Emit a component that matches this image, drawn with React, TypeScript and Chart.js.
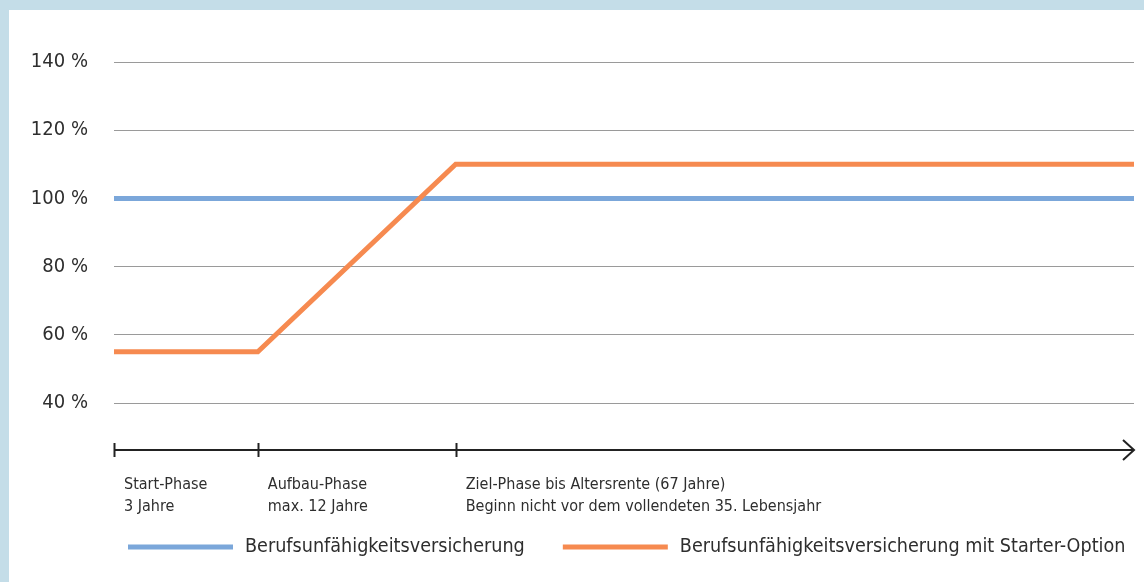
import { useEffect, useRef } from "react";
import { Chart, registerables } from "chart.js";

Chart.register(...registerables);

// timeline positions (percent of the timeline length)
const xPositions = [0, 14.1, 33.5, 100];
const standardValues = [100, 100, 100, 100];
const starterValues = [55, 55, 110, 110];
const yTickValues = [40, 60, 80, 100, 120, 140];
const phaseStarts = [0, 14.1, 33.5];
const timelineEnd = 100;
const phaseLabels = [
  ["Start-Phase", "3 Jahre"],
  ["Aufbau-Phase", "max. 12 Jahre"],
  ["Ziel-Phase bis Altersrente (67 Jahre)", "Beginn nicht vor dem vollendeten 35. Lebensjahr"],
];
const seriesNames = [
  "Berufsunfähigkeitsversicherung",
  "Berufsunfähigkeitsversicherung mit Starter-Option",
];
const seriesColors = ["#7BA7DA", "#F68A50"];

const FONT = "'Liberation Sans Narrow', 'DejaVu Sans Condensed', 'Liberation Sans', sans-serif";
const TEXT = "#2e2e2e";

const timelinePlugin = {
  id: "timelineAndLegend",
  afterDraw(chart: any) {
    const ctx = chart.ctx;
    const area = chart.chartArea;
    const xs = chart.scales.x;
    const y = area.bottom + 47;
    const x0 = xs.getPixelForValue(0);
    const x1 = xs.getPixelForValue(timelineEnd);
    ctx.save();
    ctx.strokeStyle = "#222";
    ctx.lineWidth = 2;
    ctx.beginPath();
    ctx.moveTo(x0, y);
    ctx.lineTo(x1, y);
    ctx.stroke();
    phaseStarts.forEach((v) => {
      const px = Math.round(xs.getPixelForValue(v)) + 0.5;
      ctx.beginPath();
      ctx.moveTo(px, y - 7);
      ctx.lineTo(px, y + 7);
      ctx.stroke();
    });
    ctx.beginPath();
    ctx.moveTo(x1 - 11, y - 10);
    ctx.lineTo(x1, y);
    ctx.lineTo(x1 - 11, y + 10);
    ctx.stroke();

    ctx.fillStyle = TEXT;
    ctx.font = `16px ${FONT}`;
    ctx.textAlign = "left";
    ctx.textBaseline = "alphabetic";
    phaseStarts.forEach((v, i) => {
      const px = xs.getPixelForValue(v) + 10;
      ctx.fillText(phaseLabels[i][0], px, area.bottom + 86);
      ctx.fillText(phaseLabels[i][1], px, area.bottom + 108);
    });

    // legend
    const ly = area.bottom + 144;
    let lx = area.left + 14;
    ctx.font = `19.6px ${FONT}`;
    ctx.textBaseline = "middle";
    seriesNames.forEach((name, i) => {
      ctx.strokeStyle = seriesColors[i];
      ctx.lineWidth = 5;
      ctx.beginPath();
      ctx.moveTo(lx, ly);
      ctx.lineTo(lx + 105, ly);
      ctx.stroke();
      ctx.fillStyle = TEXT;
      ctx.fillText(name, lx + 117, ly);
      lx += 117 + ctx.measureText(name).width + 38;
    });
    ctx.restore();
  },
};

export default function App() {
  const ref = useRef<HTMLCanvasElement | null>(null);
  useEffect(() => {
    if (!ref.current) return;
    const chart = new Chart(ref.current, {
      type: "line",
      data: {
        datasets: [
          {
            label: seriesNames[0],
            data: xPositions.map((x, i) => ({ x, y: standardValues[i] })),
            borderColor: seriesColors[0],
            borderWidth: 5,
            pointRadius: 0,
            tension: 0,
            order: 1,
          },
          {
            label: seriesNames[1],
            data: xPositions.map((x, i) => ({ x, y: starterValues[i] })),
            borderColor: seriesColors[1],
            borderWidth: 5,
            pointRadius: 0,
            tension: 0,
            order: 0,
          },
        ],
      },
      options: {
        responsive: false,
        animation: false,
        layout: { padding: { top: 52, bottom: 179, right: 10, left: 0 } },
        plugins: { legend: { display: false }, tooltip: { enabled: false } },
        scales: {
          x: { type: "linear", min: 0, max: timelineEnd, display: false },
          y: {
            min: yTickValues[0],
            max: yTickValues[yTickValues.length - 1],
            afterFit: (s: any) => {
              s.width = 105;
            },
            afterBuildTicks: (s: any) => {
              s.ticks = yTickValues.map((v) => ({ value: v }));
            },
            ticks: {
              padding: 26,
              color: TEXT,
              font: { family: FONT, size: 20 },
              callback: (v: any) => `${v} %`,
            },
            grid: { color: "#9a9a9a", lineWidth: 1, drawTicks: false },
            border: { display: false },
          },
        },
      },
      plugins: [timelinePlugin],
    });
    return () => chart.destroy();
  }, []);
  return (
    <div
      style={{
        position: "absolute",
        left: 0,
        top: 0,
        width: 1144,
        height: 582,
        background: "#C4DDE8",
      }}
    >
      <div
        style={{
          position: "absolute",
          left: 9,
          top: 10,
          width: 1135,
          height: 572,
          background: "#ffffff",
        }}
      >
        <canvas ref={ref} width={1135} height={572} style={{ display: "block" }} />
      </div>
    </div>
  );
}
